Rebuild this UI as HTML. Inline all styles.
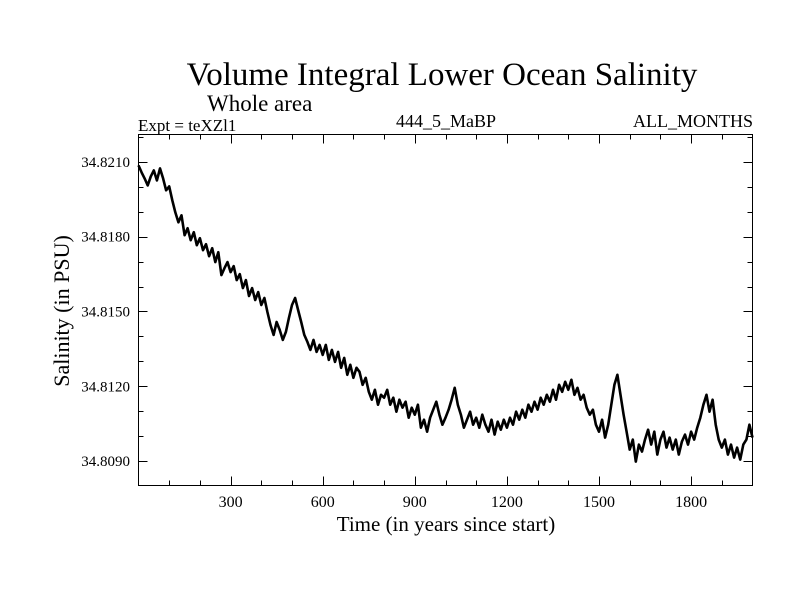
<!DOCTYPE html>
<html><head><meta charset="utf-8"><style>
html,body{margin:0;padding:0;background:#fff;}
svg text{font-family:"Liberation Serif",serif;fill:#000;}
</style></head><body>
<svg id="chart" width="800" height="600" xmlns="http://www.w3.org/2000/svg">
<text x="442" y="85" font-size="33" text-anchor="middle">Volume Integral Lower Ocean Salinity</text>
<text x="207" y="111" font-size="23">Whole area</text>
<text x="138" y="131" font-size="17">Expt = teXZl1</text>
<text x="446" y="127" font-size="18" text-anchor="middle">444_5_MaBP</text>
<text x="753" y="127" font-size="18" text-anchor="end">ALL_MONTHS</text>
<text x="446" y="531" font-size="21" text-anchor="middle">Time (in years since start)</text>
<text transform="translate(69,311) rotate(-90)" font-size="22" text-anchor="middle">Salinity (in PSU)</text>
<g id="ticks"></g>
<path id="series" fill="none" stroke="#000" stroke-width="2.6" stroke-linejoin="round"></path>
<rect x="138.5" y="134.5" width="614" height="351" fill="none" stroke="#000" stroke-width="1"></rect>
</svg>
<script>
const years=[];for(let i=0;i<=200;i++)years.push(i*10);
const salinity=[34.82086,34.82058,34.82034,34.82006,34.82042,34.82066,34.82026,34.82074,34.82034,34.81986,
34.82002,34.81946,34.81898,34.81858,34.81886,34.81806,34.81834,34.81786,34.81818,34.81766,
34.81794,34.81746,34.81770,34.81722,34.81754,34.81698,34.81738,34.81646,34.81674,34.81698,
34.81658,34.81682,34.81626,34.81650,34.81594,34.81626,34.81562,34.81594,34.81546,34.81578,
34.81526,34.81554,34.81498,34.81446,34.81406,34.81458,34.81426,34.81386,34.81418,34.81474,
34.81526,34.81554,34.81506,34.81458,34.81406,34.81378,34.81346,34.81386,34.81338,34.81366,
34.81326,34.81366,34.81306,34.81346,34.81298,34.81338,34.81274,34.81314,34.81246,34.81286,
34.81234,34.81274,34.81258,34.81206,34.81234,34.81178,34.81146,34.81186,34.81126,34.81166,
34.81154,34.81186,34.81126,34.81154,34.81098,34.81146,34.81114,34.81138,34.81074,34.81114,
34.81086,34.81126,34.81034,34.81066,34.81018,34.81074,34.81106,34.81138,34.81086,34.81046,
34.81074,34.81106,34.81146,34.81194,34.81126,34.81086,34.81034,34.81066,34.81098,34.81046,
34.81074,34.81034,34.81086,34.81046,34.81018,34.81066,34.81006,34.81058,34.81026,34.81066,
34.81034,34.81074,34.81046,34.81098,34.81066,34.81106,34.81074,34.81126,34.81098,34.81138,
34.81106,34.81154,34.81126,34.81166,34.81138,34.81186,34.81146,34.81206,34.81178,34.81218,
34.81186,34.81226,34.81166,34.81194,34.81146,34.81166,34.81114,34.81086,34.81106,34.81046,
34.81018,34.81066,34.80994,34.81046,34.81126,34.81206,34.81246,34.81166,34.81086,34.81018,
34.80946,34.80986,34.80898,34.80966,34.80938,34.80986,34.81026,34.80966,34.81018,34.80926,
34.80986,34.81018,34.80954,34.80994,34.80946,34.80986,34.80926,34.80978,34.81006,34.80966,
34.81018,34.80986,34.81034,34.81074,34.81126,34.81166,34.81098,34.81146,34.81046,34.80986,
34.80954,34.80986,34.80926,34.80966,34.80914,34.80954,34.80906,34.80966,34.80986,34.81046,34.80994];
const xMajorTicks=[300,600,900,1200,1500,1800];
const yMajorTicks=[34.8090,34.8120,34.8150,34.8180,34.8210];
const xMin=0,xMax=2000,yMin=34.80802,yMax=34.82210;
const L=138.5,R=752.5,T=134.5,B=485.5;
const sx=v=>L+(v-xMin)/(xMax-xMin)*(R-L);
const sy=v=>B-(v-yMin)/(yMax-yMin)*(B-T);
const NS='http://www.w3.org/2000/svg';
const g=document.getElementById('ticks');
function line(x1,y1,x2,y2){const l=document.createElementNS(NS,'line');
l.setAttribute('x1',x1);l.setAttribute('y1',y1);l.setAttribute('x2',x2);l.setAttribute('y2',y2);
l.setAttribute('stroke','#000');l.setAttribute('stroke-width','1');


g.appendChild(l);}
for(let yr=100;yr<2000;yr+=100){const x=Math.round(sx(yr))+0.5;const len=yr%300===0?9:5;
line(x,B,x,B-len);line(x,T,x,T+len);}
for(let k=0;k<=14;k++){const v=34.8090+(k-1)*0.001;if(v<=yMin||v>=yMax)continue;
const y=Math.round(sy(v))+0.5;const major=yMajorTicks.some(m=>Math.abs(m-v)<1e-6);const len=major?9:5;
line(L,y,L+len,y);line(R,y,R-len,y);}
xMajorTicks.forEach(t=>{const tx=document.createElementNS(NS,'text');
tx.setAttribute('x',sx(t));tx.setAttribute('y',507);tx.setAttribute('font-size','16');tx.setAttribute('text-anchor','middle');
tx.textContent=t;


g.appendChild(tx);});
yMajorTicks.forEach(t=>{const tx=document.createElementNS(NS,'text');
tx.setAttribute('x',130);tx.setAttribute('y',sy(t)+5);tx.setAttribute('font-size','15');tx.setAttribute('text-anchor','end');
tx.textContent=t.toFixed(4);


g.appendChild(tx);});
let d='';years.forEach((yr,i)=>{d+=(i?'L':'M')+sx(yr).toFixed(1)+','+sy(salinity[i]).toFixed(1);});
document.getElementById('series').setAttribute('d',d);
</script>
</body></html>
